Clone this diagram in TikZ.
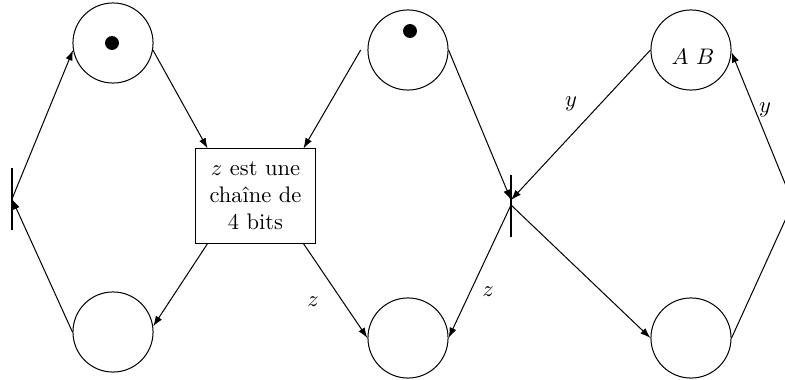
\documentclass[tikz,border=0pt]{standalone}
\usetikzlibrary{arrows.meta}
\begin{document}
\begin{tikzpicture}[x=0.4444pt,y=-0.4444pt,line width=0.45pt,
  place/.style={circle,draw,minimum size=35.6pt,inner sep=0pt},
  trans/.style={draw,line width=0.45pt},
  token/.style={circle,fill,inner sep=0pt,minimum size=6.2pt},
  guard/.style={draw,align=center,minimum width=52.9pt,minimum height=41.8pt,inner sep=0pt},
  arc/.style={-{Latex[length=4.6pt,width=3.2pt]}},
  lab/.style={inner sep=0pt}]
\useasboundingbox (0,0) rectangle (785,380);
\clip (0,0) rectangle (785,380);
% places
\node[place] (p1) at (113,43) {};
\node[place] (p2) at (113,332) {};
\node[place] (p3) at (408,50) {};
\node[place] (p4) at (408,338) {};
\node[place] (p5) at (691,50) {};
\node[place] (p6) at (691,338) {};
\node[token] (k1) at (112,43) {};
\node[token] (k2) at (410,31) {};
\node[lab] (ab) at (693,57) {$A$ $B$};
% guard box
\node[guard] (g) at (255.5,196) {$z$ est une\\cha\^ine de\\4 bits};
% transitions
\coordinate (t1) at (12,199);
\draw[trans] (12,168) -- (12,230);
\coordinate (t2in) at (511,200);
\coordinate (t2out) at (511,205);
\draw[trans] (511,175) -- (511,237);
\coordinate (t3) at (793,203);
% arcs
\draw[arc] (t1) -- (p1.190);
\draw[arc] (p2.west) -- (t1);
\draw[arc] (p1.-10) -- ([xshift=-21.3pt]g.north);
\draw[arc] ([xshift=-3pt]p3.west) -- ([xshift=21.3pt]g.north);
\draw[arc] ([xshift=-21.3pt]g.south) -- (p2.8);
\draw[arc] ([xshift=21.3pt]g.south) -- (p4.west);
\draw[arc] (p3.east) -- (t2in);
\draw[arc] (p5.west) -- (t2in);
\draw[arc] (t2out) -- (p4.east);
\draw[arc] (t2out) -- (p6.west);
\draw (p6.east) -- (t3);
\draw[arc] (t3) -- (p5.-3);
% labels
\node[lab] (lz1) at (313,302) {$z$};
\node[lab] (lz2) at (488,292) {$z$};
\node[lab] (ly1) at (571,104) {$y$};
\node[lab] (ly2) at (765,110) {$y$};
\end{tikzpicture}
\end{document}
